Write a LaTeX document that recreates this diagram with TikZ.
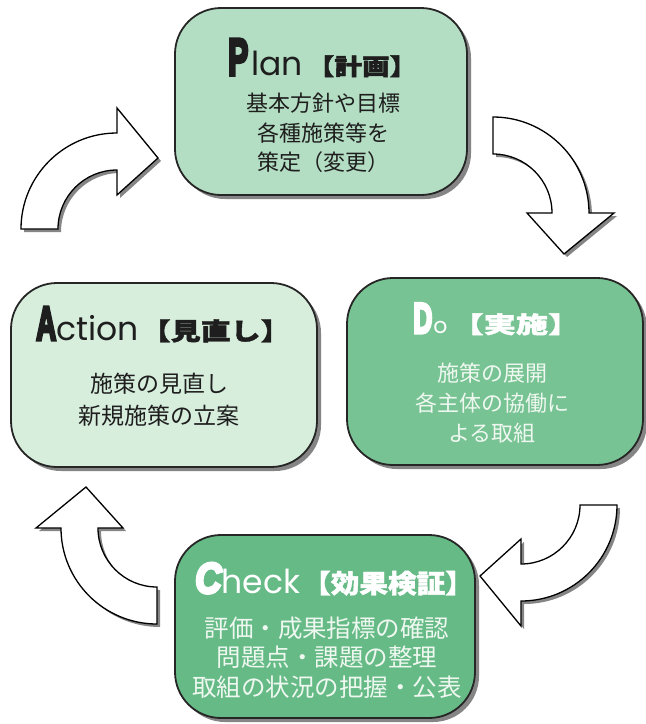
\documentclass[tikz,border=0pt]{standalone}
\usepackage{fontspec}
\usetikzlibrary{shadows}
\newfontfamily\jp{Noto Sans CJK JP}
\newfontfamily\jpheavy{Noto Sans CJK JP}[FakeBold=1.5]
\newfontfamily\heavy{Liberation Sans}[FakeBold=7]
\newfontfamily\geo{Poppins}
\definecolor{planfill}{RGB}{180,222,195}
\definecolor{dofill}{RGB}{120,195,147}
\definecolor{actfill}{RGB}{215,238,221}
\definecolor{chkfill}{RGB}{102,186,134}
\definecolor{lighttxt}{RGB}{238,248,240}
\definecolor{darktxt}{RGB}{30,30,30}
\newcommand\bigL[3]{{\heavy\bfseries\fontsize{#1}{#1}\selectfont\scalebox{#2}[1]{#3}}}
\newcommand\thinL[2]{{\geo\fontsize{#1}{#1}\selectfont #2}}
\newcommand\jpttl[3]{{\jpheavy\bfseries\fontsize{#1}{#1}\selectfont\scalebox{#2}[1]{#3}}}
\begin{document}
\begin{tikzpicture}[x=1pt,y=-1pt,
  box/.style={draw=black!85, line width=1.8pt, rounded corners=46pt,
    drop shadow={shadow xshift=4pt, shadow yshift=-4pt, fill=black!60, opacity=0.8}},
  arrowshape/.style={draw=black, line width=1.3pt, fill=white, line join=miter,
    drop shadow={shadow xshift=3pt, shadow yshift=-3pt, fill=black!60, opacity=0.8}},
  body/.style={align=center, inner sep=0pt},
  ttl/.style={anchor=base west, inner sep=0pt},
  pics/cycarrow/.style={code={
    \draw[arrowshape] ({96*cos(#1)},{96*sin(#1)})
      arc[start angle=#1, end angle=#1+90, radius=96]
      -- ({121*cos(#1+90)},{121*sin(#1+90)})
      -- ({71*cos(#1+90)+41*cos(#1+180)},{71*sin(#1+90)+41*sin(#1+180)})
      -- ({34*cos(#1+90)},{34*sin(#1+90)})
      -- ({59*cos(#1+90)},{59*sin(#1+90)})
      arc[start angle=#1+90, end angle=#1, radius=59] -- cycle;
  }}]
\useasboundingbox (0,0) rectangle (646,724);

% curved block arrows
\coordinate (arrA) at (117,229);
\coordinate (arrP) at (493,213);
\coordinate (arrD) at (521,505);
\coordinate (arrC) at (157,528);
\pic at (arrA) {cycarrow=180};
\pic at (arrP) {cycarrow=270};
\pic at (arrD) {cycarrow=0};
\pic at (arrC) {cycarrow=90};

% boxes
\node[box, fill=planfill, minimum width=292pt, minimum height=187pt] (plan) at (321,101.5) {};
\node[box, fill=dofill, minimum width=296pt, minimum height=187pt] (do) at (495,371.5) {};
\node[box, fill=actfill, minimum width=306pt, minimum height=184pt] (act) at (164,375) {};
\node[box, fill=chkfill, minimum width=300pt, minimum height=183pt] (chk) at (325,626.5) {};

% titles
\node[ttl, text=darktxt] (plant) at (228,75)
  {\bigL{52}{0.58}{P}\hspace{3pt}\thinL{33}{lan}\hspace{4pt}\jpttl{23}{1.2}{【計画】}};
\node[ttl, text=white] (dot) at (413,333)
  {\bigL{43}{0.62}{D}\hspace{1pt}\thinL{22}{o}\hspace{4pt}\jpttl{23}{1.4}{【実施】}};
\node[ttl, text=darktxt] (actt) at (36,340)
  {\bigL{48}{0.58}{A}\thinL{33}{ction}\hspace{2pt}\jpttl{24}{1.25}{【見直し】}};
\node[ttl, text=white] (chkt) at (195,593)
  {\bigL{43}{0.85}{\itshape C}\thinL{33}{heck}\hspace{2pt}\jpttl{26}{1.1}{【効果検証】}};

% body texts
\node[body, text=darktxt, font=\jp\fontsize{22}{29.5}\selectfont] (planb) at (323,133)
  {基本方針や目標\\各種施策等を\\策定（変更）};
\node[body, text=lighttxt, font=\jp\fontsize{22}{30}\selectfont] (dob) at (492,403)
  {施策の展開\\各主体の協働に\\よる取組};
\node[body, text=darktxt, font=\jp\fontsize{23}{32}\selectfont] (actb) at (159,400)
  {施策の見直し\\新規施策の立案};
\node[body, text=lighttxt, font=\jp\fontsize{24.5}{29.5}\selectfont] (chkb) at (327,657.5)
  {評価・成果指標の確認\\問題点・課題の整理\\取組の状況の把握・公表};
\end{tikzpicture}
\end{document}
